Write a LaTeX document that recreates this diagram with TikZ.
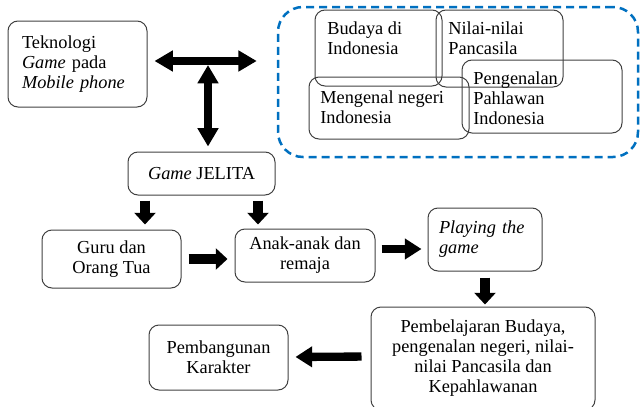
\documentclass[tikz,border=0pt]{standalone}
\usepackage{fontspec}
\setmainfont{Liberation Serif}
\usetikzlibrary{arrows.meta,calc}
\definecolor{dashblue}{RGB}{0,112,192}

\begin{document}
\begin{tikzpicture} [
    x=0.6pt, y=-0.6pt,
    font=\fontsize{11}{12}\selectfont,
    box/.style={rectangle, draw=black!75, line width=0.6pt, rounded corners=6pt, align=center, inner sep=2pt},
    txt/.style={anchor=north west, inner sep=0pt, align=left},
    arrow/.style={-{Triangle[length=7pt, width=12.5pt]}, line width=5.5pt},
    longarrow/.style={-{Triangle[length=10pt, width=12pt]}, line width=5pt},
    dblarrow/.style={{Triangle[length=11pt, width=12pt]}-{Triangle[length=11pt, width=12pt]}, line width=4.8pt}
]
    \useasboundingbox (0,0) rectangle (640,407);

    % Teknologi
    \node[box, align=left, text width=66.6pt, inner xsep=8.4pt, minimum height=51.6pt] (tek) at (77.5,64) {Teknologi\\\textit{Game} pada\\\textit{Mobile phone}};

    % Kelompok materi (garis putus-putus)
    \node[rectangle, draw=dashblue, line width=1.5pt, dash pattern=on 4.8pt off 3pt, rounded corners=15pt, minimum width=216pt, minimum height=90pt] (grp) at (458,82) {};
    \node[box, minimum width=76.2pt, minimum height=45.6pt] (budaya) at (378.5,48) {};
    \node[box, minimum width=76.2pt, minimum height=46.2pt] (nilai) at (499.5,48.5) {};
    \node[box, minimum width=96pt, minimum height=43.8pt] (pahlawan) at (542,96.5) {};
    \node[box, minimum width=96pt, minimum height=37.2pt] (negeri) at (389,108) {};
    \node[txt] (budayatxt) at (327,21) {Budaya di\\Indonesia};
    \node[txt] (nilaitxt) at (448,21) {Nilai-nilai\\Pancasila};
    \node[txt] (pahlawantxt) at (473,71) {Pengenalan\\Pahlawan\\Indonesia};
    \node[txt] (negeritxt) at (320,90) {Mengenal negeri\\Indonesia};

    % Game
    \node[box, minimum width=88.2pt, minimum height=25.8pt] (jelita) at (201.5,173.5) {\textit{Game} JELITA};

    % Pengguna
    \node[box, minimum width=83.4pt, minimum height=34.8pt] (guru) at (111.5,259) {Guru dan\\Orang Tua};
    \node[box, minimum width=84pt, minimum height=31.8pt] (anak) at (305,255.5) {Anak-anak dan\\remaja};
    \node[box, align=left, text width=55.2pt, inner xsep=6.6pt, minimum height=37.8pt] (playing) at (485,239.5) {\textit{Playing the}\\\textit{game}};

    % Hasil
    \node[box, minimum width=134.4pt, minimum height=61.8pt] (pembel) at (483,358.5) {Pembelajaran Budaya,\\pengenalan negeri, nilai-\\nilai Pancasila dan\\Kepahlawanan};
    \node[box, minimum width=83.4pt, minimum height=39pt] (karakter) at (218.5,357.5) {Pembangunan\\Karakter};

    % Panah
    \coordinate (hub) at (208,61);
    \draw[dblarrow, shorten <=4.2pt, shorten >=12pt] (tek.east |- hub) -- (hub -| grp.west);
    \draw[dblarrow, shorten <=2.4pt, shorten >=3pt] (hub) -- (hub |- jelita.north);
    \draw[arrow, shorten <=3pt, shorten >=3pt] ($(jelita.south)+(-56.5,0)$) -- ($(guru.north)+(33.5,0)$);
    \draw[arrow, shorten <=3pt, shorten >=2.4pt] ($(jelita.south)+(56.5,0)$) -- ($(anak.north)+(-47,0)$);
    \draw[arrow, shorten <=4.2pt, shorten >=4.2pt] (guru.east) -- (guru.east -| anak.west);
    \draw[longarrow, shorten <=3.6pt, shorten >=3.6pt] ($(anak.east)+(0,-6.5)$) -- ($(playing.west)+(0,9.5)$);
    \draw[arrow, shorten <=3.6pt, shorten >=1.2pt] (playing.south) -- (playing.south |- pembel.north);
    \draw[longarrow, shorten <=5.4pt, shorten >=4.2pt] ($(pembel.west)+(0,-2)$) -- ($(karakter.east)+(0,-0.5)$);
\end{tikzpicture}
\end{document}
